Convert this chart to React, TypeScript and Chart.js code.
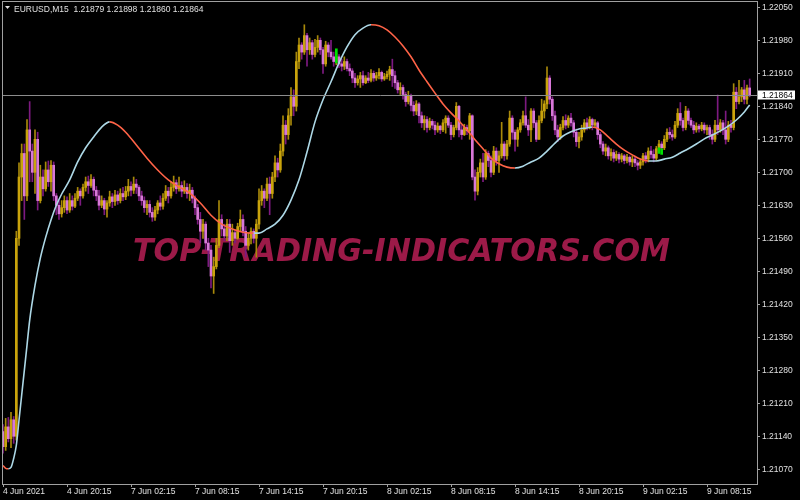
import { useEffect, useRef } from "react";
import { Chart, registerables } from "chart.js";
Chart.register(...registerables);

// Prices are stored in points above BASE (1 point = 0.00001)
const BASE = 1.21;
const PT = 0.00001;
const symbolTitle = "EURUSD,M15";
const lastOHLC = ["1.21879", "1.21898", "1.21860", "1.21864"];
const lastPricePts = 864;

const firstOpen = 150;
const closes = [
  118,160,135,175,140,560,690,740,650,790,
  745,700,770,640,690,665,705,680,715,650,
  630,612,625,640,620,640,628,645,660,650,
  668,680,672,685,662,650,630,640,622,635,
  648,638,652,640,655,648,660,670,662,675,
  668,650,640,625,632,615,605,620,635,628,
  645,660,650,668,678,665,672,660,668,655,
  662,645,625,600,575,590,550,535,480,500,
  545,600,580,565,590,555,572,560,585,600,
  575,545,560,575,560,590,640,660,645,675,
  655,690,720,705,745,800,780,820,860,840,
  935,970,955,990,960,975,950,965,980,960,
  930,970,955,945,935,945,930,925,935,920,
  915,900,890,898,905,890,900,895,910,900,
  905,912,898,903,908,918,905,890,875,880,
  865,850,862,842,830,845,820,805,812,795,
  808,800,790,798,790,805,815,800,780,795,
  840,790,780,795,788,820,690,660,700,720,
  690,740,725,700,745,725,735,760,735,760,
  815,785,770,790,805,820,800,790,830,805,
  770,810,830,845,900,855,820,790,775,795,
  810,800,815,805,785,765,775,790,805,795,
  812,800,805,780,760,745,752,735,742,730,
  738,728,735,725,732,722,728,720,715,722,
  735,728,745,738,730,750,760,752,770,785,
  780,775,800,825,810,795,830,810,800,790,
  798,792,800,790,795,780,770,800,790,805,
  790,770,800,795,870,850,860,875,855,879,
  864
];
const highs = [
  165,178,180,191,182,575,720,760,760,812,
  850,760,790,785,715,705,722,724,725,722,
  655,640,640,650,648,655,650,655,668,665,
  675,690,692,695,690,670,662,650,645,640,
  660,655,662,660,665,668,670,685,680,690,
  685,672,660,648,640,640,625,628,640,650,
  655,672,668,680,692,684,690,680,682,676,
  675,668,650,632,615,600,595,560,545,520,
  560,640,610,590,600,600,590,578,592,620,
  610,585,572,582,580,600,665,672,665,688,
  690,700,735,730,760,820,810,835,880,875,
  955,985,975,1013,995,985,980,982,990,985,
  965,978,975,980,955,952,950,940,945,940,
  930,920,910,905,912,915,905,912,918,915,
  912,920,915,910,915,925,940,915,895,890,
  885,870,872,866,850,852,848,828,820,818,
  815,812,808,805,800,812,820,820,806,800,
  848,842,800,802,800,825,822,705,710,728,
  740,748,745,735,755,752,745,806,765,768,
  830,820,790,795,812,830,860,812,835,835,
  810,820,855,852,924,905,860,830,800,802,
  818,822,820,825,810,792,785,800,812,815,
  818,815,812,808,785,765,760,756,750,748,
  745,742,740,738,738,735,735,732,725,728,
  740,742,752,755,748,755,768,765,778,792,
  795,790,808,835,848,815,840,835,815,808,
  805,802,806,805,800,800,790,810,864,812,
  810,830,808,810,888,880,895,880,895,885,
  898
];
const lows = [
  104,110,128,116,125,132,545,640,600,640,
  680,680,655,620,635,650,660,670,660,640,
  610,600,605,615,612,615,620,625,640,630,
  645,660,655,668,650,640,620,625,610,605,
  628,625,630,632,635,640,642,650,650,655,
  655,640,630,615,610,605,596,598,612,620,
  622,640,635,645,660,655,660,648,655,645,
  640,635,610,590,550,560,535,500,455,443,
  495,540,565,555,555,530,545,550,558,575,
  565,520,535,548,550,520,580,630,625,640,
  610,645,680,690,700,735,760,770,800,820,
  830,920,940,950,925,950,940,945,955,950,
  910,925,945,940,925,928,922,915,918,915,
  905,890,880,885,880,885,888,890,892,893,
  895,898,893,895,898,895,882,878,868,865,
  855,840,845,830,820,822,805,795,790,785,
  790,792,780,785,782,786,783,795,769,775,
  790,775,770,778,780,770,684,641,652,690,
  680,685,712,690,695,715,700,730,725,728,
  755,770,745,755,785,800,795,778,765,795,
  765,770,805,815,835,845,810,780,765,770,
  790,792,795,798,775,755,752,768,785,790,
  792,790,795,770,752,738,735,728,725,722,
  725,720,722,718,720,715,712,712,705,708,
  715,720,722,730,722,725,742,745,748,765,
  772,768,772,795,800,788,790,802,795,782,
  785,785,788,783,780,770,760,765,780,785,
  780,760,765,785,790,835,845,850,845,845,
  860
];

// Smooth moving average, read at these bar positions
const maBars = [
  0,1,2,3,4,5,6,7,8,9,10,12,14,16,18,20,22,25,28,31,34,37,40,43,46,
  50,54,58,62,66,70,74,78,82,86,90,94,96,99,
  102,105,108,111,114,117,120,123,126,129,132,135,138,141,144,147,150,153,156,159,
  162,165,168,171,174,177,180,183,186,189,192,195,198,201,204,207,210,213,216,219,
  221,224,227,230,233,236,239,242,245,248,251,254,257,260,263,266,269,272,275,278,280
];
const maValues = [
  78,72,71,74,93,121,174,227,280,333,386,460,518,562,599,630,654,684,722,752,775,796,807,800,785,
  758,730,705,684,669,656,635,609,590,580,573,571,571,580,
  590,609,641,684,743,807,854,892,932,966,992,1006,1013,1011,1002,987,968,945,917,892,
  868,845,826,809,790,769,750,730,718,711,709,713,722,730,745,762,777,786,792,794,
  796,790,775,760,747,737,728,724,724,728,732,741,750,760,771,779,788,798,811,828,843
];

// green signal bars
const greenBars = [125, 246, 247];
const greenLows = [932, 740, 738];
const greenHighs = [962, 752, 750];

const xTickBars = [0, 24, 48, 72, 96, 120, 144, 168, 192, 216, 240, 264];
const xTickLabels = [
  "4 Jun 2021", "4 Jun 20:15", "7 Jun 02:15", "7 Jun 08:15", "7 Jun 14:15", "7 Jun 20:15",
  "8 Jun 02:15", "8 Jun 08:15", "8 Jun 14:15", "8 Jun 20:15", "9 Jun 02:15", "9 Jun 08:15"
];
const yTicks = [
  1.2107, 1.2114, 1.2121, 1.2128, 1.2135, 1.2142, 1.2149, 1.2156,
  1.2163, 1.2170, 1.2177, 1.2184, 1.2191, 1.2198, 1.2205
];
const watermarkText = "TOP-TRADING-INDICATORS.COM";

const toPrice = (p: number) => +(BASE + p * PT).toFixed(6);

const FONT_FAMILY = '"Liberation Sans", Arial, sans-serif';
const FONT_SIZE = 8.5;
const FONT = `${FONT_SIZE}px ${FONT_FAMILY}`;
const TEXT = "#e0e0e0";
const FRAME = "#a0a0a0";
const BULL_WICK = "#a8890a";
const BULL_BODY = "#c9a30c";
const BEAR_WICK = "#7d1a80";
const BEAR_BODY = "#d878d8";
const MA_UP = "#add8e6";
const MA_DOWN = "#ff6347";

const zeroPad = (s: any) => {
  s.paddingTop = 0;
  s.paddingBottom = 0;
  s.paddingLeft = 0;
  s.paddingRight = 0;
};

export default function App() {
  const ref = useRef<HTMLCanvasElement>(null);

  useEffect(() => {
    if (!ref.current) return;
    const opens = closes.map((_, i) => (i === 0 ? firstOpen : closes[i - 1]));
    const bull = closes.map((c, i) => c >= opens[i]);
    const wickData = closes.map((_, i) => ({ x: i, y: [toPrice(lows[i]), toPrice(highs[i])] }));
    const bodyData = closes.map((c, i) => ({ x: i, y: [toPrice(opens[i]), toPrice(c)] }));
    const greenData = greenBars.map((b, i) => ({ x: b, y: [toPrice(greenLows[i]), toPrice(greenHighs[i])] }));
    const maData = maBars.map((b, i) => ({ x: b, y: toPrice(maValues[i]) }));
    const labelMap: Record<number, string> = {};
    xTickBars.forEach((b, i) => (labelMap[b] = xTickLabels[i]));

    const bgPlugin = {
      id: "bg",
      beforeDraw(chart: any) {
        const c = chart.ctx;
        c.save();
        c.fillStyle = "#000";
        c.fillRect(0, 0, chart.width, chart.height);
        c.restore();
      },
    };

    const watermark = {
      id: "wm",
      beforeDatasetsDraw(chart: any) {
        const c = chart.ctx;
        c.save();
        c.font = 'italic bold 32px "DejaVu Sans", sans-serif';
        const w = c.measureText(watermarkText).width;
        const targetW = 537;
        c.translate(133, 261);
        c.scale(targetW / w, 1);
        c.fillStyle = "#9c1a48";
        c.textBaseline = "alphabetic";
        c.fillText(watermarkText, 0, 0);
        c.restore();
      },
    };

    const priceLine = {
      id: "pl",
      afterDatasetsDraw(chart: any) {
        const c = chart.ctx;
        const a = chart.chartArea;
        const y = Math.round(chart.scales.y.getPixelForValue(toPrice(lastPricePts))) + 0.5;
        c.save();
        c.strokeStyle = "#8c8c8c";
        c.lineWidth = 1;
        c.beginPath();
        c.moveTo(a.left, y);
        c.lineTo(a.right + 2, y);
        c.stroke();
        c.restore();
      },
    };

    const overlay = {
      id: "ov",
      afterDraw(chart: any) {
        const c = chart.ctx;
        const a = chart.chartArea;
        c.save();
        // frame
        c.strokeStyle = FRAME;
        c.lineWidth = 1;
        c.strokeRect(a.left + 0.5, a.top + 0.5, a.right - a.left, a.bottom - a.top);
        // price box
        const y = chart.scales.y.getPixelForValue(toPrice(lastPricePts));
        c.fillStyle = "#ffffff";
        c.fillRect(a.right + 1, Math.round(y) - 4.5, 37, 9);
        c.fillStyle = "#000";
        c.font = FONT;
        c.textBaseline = "middle";
        c.textAlign = "left";
        c.fillText(toPrice(lastPricePts).toFixed(5), a.right + 5, Math.round(y) + 0.5);
        // header
        c.fillStyle = TEXT;
        c.beginPath();
        c.moveTo(5, 6);
        c.lineTo(10, 6);
        c.lineTo(7.5, 9);
        c.closePath();
        c.fill();
        c.textBaseline = "alphabetic";
        c.fillText(symbolTitle + "  " + lastOHLC.join(" "), 14, 11.5);
        c.restore();
      },
    };

    const chart = new Chart(ref.current, {
      type: "bar",
      data: {
        datasets: [
          {
            type: "line",
            data: maData,
            borderWidth: 1.6,
            pointRadius: 0,
            tension: 0.4,
            cubicInterpolationMode: "monotone",
            borderColor: MA_UP,
            segment: {
              borderColor: (ctx: any) => (ctx.p1.parsed.y >= ctx.p0.parsed.y ? MA_UP : MA_DOWN),
            },
            order: 0,
          } as any,
          {
            type: "bar",
            data: greenData as any,
            backgroundColor: "#00e000",
            barThickness: 2,
            grouped: false,
            order: 1,
          } as any,
          {
            type: "bar",
            data: bodyData as any,
            backgroundColor: (ctx: any) => (bull[ctx.dataIndex] ? BULL_BODY : BEAR_BODY),
            barThickness: 2,
            grouped: false,
            order: 2,
          } as any,
          {
            type: "bar",
            data: wickData as any,
            backgroundColor: (ctx: any) => (bull[ctx.dataIndex] ? BULL_WICK : BEAR_WICK),
            barThickness: 1,
            grouped: false,
            order: 3,
          } as any,
        ],
      },
      options: {
        responsive: false,
        devicePixelRatio: 1,
        animation: false,
        events: [],
        layout: { padding: { left: 2, top: 1, right: 0, bottom: 0 } },
        plugins: { legend: { display: false }, tooltip: { enabled: false } },
        scales: {
          x: {
            type: "linear",
            min: -0.375,
            max: 282.75,
            offset: false,
            afterBuildTicks: (s: any) => {
              s.ticks = xTickBars.map((v) => ({ value: v }));
            },
            afterFit: (s: any) => {
              s.height = 16;
              zeroPad(s);
            },
            ticks: {
              autoSkip: false,
              maxRotation: 0,
              minRotation: 0,
              align: "start",
              padding: 0,
              color: TEXT,
              font: { family: FONT_FAMILY, size: FONT_SIZE },
              callback: (v: any) => labelMap[v as number] ?? "",
            },
            grid: { display: true, drawOnChartArea: false, drawTicks: true, tickLength: 3, color: FRAME, offset: false },
            border: { display: false },
          },
          y: {
            type: "linear",
            position: "right",
            min: 1.210388,
            max: 1.220634,
            afterBuildTicks: (s: any) => {
              s.ticks = yTicks.map((v) => ({ value: v }));
            },
            afterFit: (s: any) => {
              s.width = 43;
              zeroPad(s);
            },
            ticks: {
              padding: 2,
              color: TEXT,
              font: { family: FONT_FAMILY, size: FONT_SIZE },
              callback: (v: any) => Number(v).toFixed(5),
            },
            grid: { display: true, drawOnChartArea: false, drawTicks: true, tickLength: 3, color: FRAME },
            border: { display: false },
          },
        },
      } as any,
      plugins: [bgPlugin, watermark, priceLine, overlay],
    });
    return () => chart.destroy();
  }, []);

  return (
    <div style={{ position: "fixed", left: 0, top: 0, width: 800, height: 500, background: "#000" }}>
      <canvas ref={ref} width={800} height={500} style={{ display: "block" }} />
    </div>
  );
}
